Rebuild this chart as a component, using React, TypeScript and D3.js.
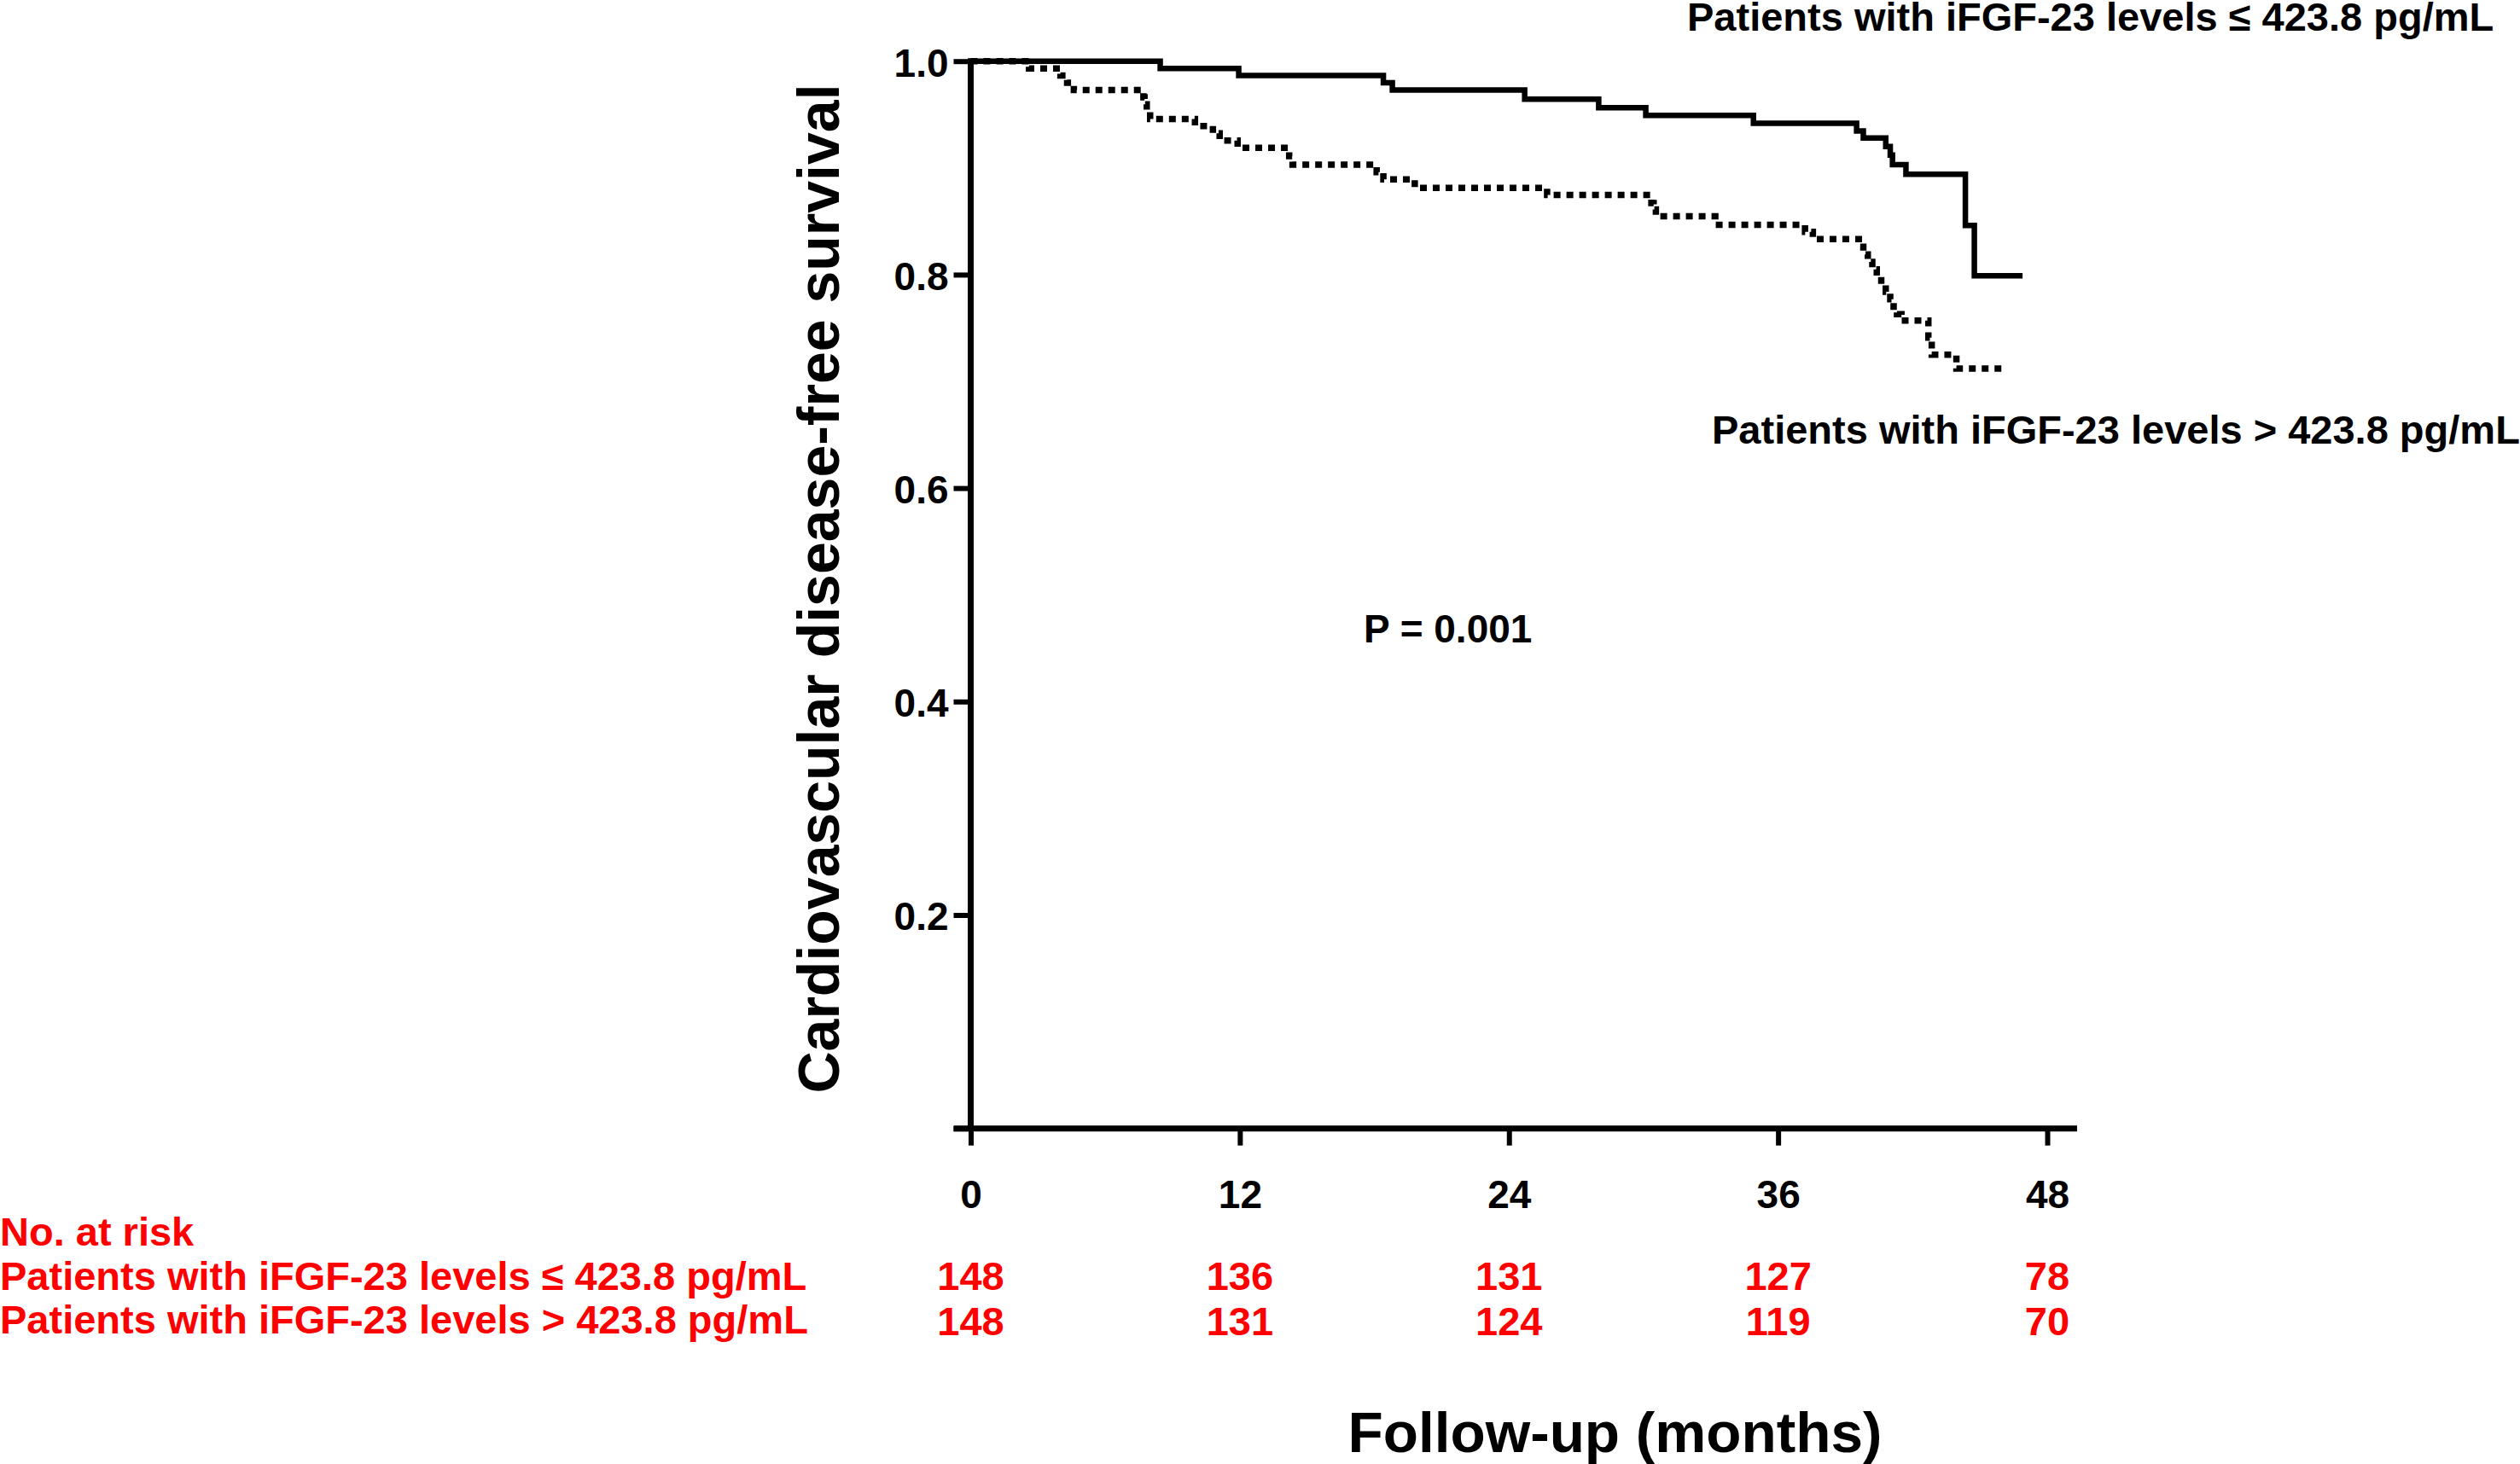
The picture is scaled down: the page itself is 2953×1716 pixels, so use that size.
import React, { useEffect, useRef } from 'react';
import * as d3 from 'd3';

const lowGroupLabel = 'Patients with iFGF-23 levels ≤ 423.8 pg/mL';
const highGroupLabel = 'Patients with iFGF-23 levels > 423.8 pg/mL';

// Kaplan-Meier steps: [month, survival]
const lowGroupSteps: [number, number][] = [
  [0, 1.0],
  [8.45, 0.9932],
  [11.95, 0.9865],
  [18.4, 0.9797],
  [18.8, 0.973],
  [24.7, 0.9644],
  [28.0, 0.9564],
  [30.1, 0.9492],
  [34.9, 0.9418],
  [39.5, 0.9346],
  [39.8, 0.928],
  [40.8, 0.92],
  [41.0, 0.912],
  [41.1, 0.903],
  [41.7, 0.894],
  [44.35, 0.846],
  [44.75, 0.799],
];
const lowGroupLastMonth = 46.9;

const highGroupSteps: [number, number][] = [
  [0, 1.0],
  [2.6, 0.9932],
  [4.0, 0.9865],
  [4.3, 0.9797],
  [4.6, 0.973],
  [7.7, 0.9662],
  [7.75, 0.9595],
  [7.85, 0.9527],
  [8.0, 0.9459],
  [10.0, 0.9392],
  [10.8, 0.9324],
  [11.1, 0.9257],
  [11.9, 0.9189],
  [14.2, 0.911],
  [14.35, 0.903],
  [18.1, 0.896],
  [18.4, 0.8893],
  [19.8, 0.8813],
  [25.7, 0.8746],
  [30.35, 0.867],
  [30.45, 0.861],
  [30.55, 0.8546],
  [33.2, 0.8466],
  [37.2, 0.84],
  [37.55, 0.8333],
  [39.6, 0.826],
  [39.8, 0.819],
  [40.0, 0.812],
  [40.2, 0.805],
  [40.4, 0.798],
  [40.6, 0.791],
  [40.8, 0.784],
  [41.0, 0.777],
  [41.15, 0.77],
  [41.3, 0.763],
  [41.5, 0.757],
  [42.7, 0.741],
  [42.85, 0.725],
  [43.95, 0.712],
];
const highGroupLastMonth = 46.1;

const xTicks = [0, 12, 24, 36, 48];
const yTicks = [0, 0.2, 0.4, 0.6, 0.8, 1.0];

const riskMonths = [0, 12, 24, 36, 48];
const lowAtRisk = [148, 136, 131, 127, 78];
const highAtRisk = [148, 131, 124, 119, 70];

const pValueText = 'P = 0.001';
const yTitle = 'Cardiovascular disease-free survival';
const xTitle = 'Follow-up (months)';
const riskTitle = 'No. at risk';

const FONT = "'Liberation Sans', Arial, Helvetica, sans-serif";
const RED = '#ff0000';

const KaplanMeier: React.FC = () => {
  const ref = useRef<SVGSVGElement>(null);

  useEffect(() => {
    if (!ref.current) return;
    const svg = d3.select(ref.current);
    svg.selectAll('*').remove();

    const width = 2953;
    const height = 1716;
    svg.attr('viewBox', `0 0 ${width} ${height}`);

    const x = d3.scaleLinear().domain([0, 48]).range([1137.5, 2399]);
    const y = d3.scaleLinear().domain([0, 1]).range([1322.7, 71.7]);

    const g = svg.append('g').attr('font-family', FONT).attr('font-weight', 'bold');

    // Axes lines
    g.append('line')
      .attr('x1', x(0)).attr('x2', x(0))
      .attr('y1', y(1) - 3.5).attr('y2', y(0))
      .attr('stroke', '#000').attr('stroke-width', 7);
    g.append('line')
      .attr('x1', x(0) - 20).attr('x2', x(49.33))
      .attr('y1', y(0)).attr('y2', y(0))
      .attr('stroke', '#000').attr('stroke-width', 7);

    // Y axis ticks
    const yAxis = g.append('g')
      .attr('transform', `translate(${x(0)},0)`)
      .call(
        d3.axisLeft(y)
          .tickValues(yTicks)
          .tickSize(20)
          .tickSizeOuter(0)
          .tickPadding(6)
          .tickFormat(d => (d === 0 ? '' : d3.format('.1f')(d as number)))
      );
    yAxis.select('.domain').remove();
    yAxis.selectAll('.tick line').attr('stroke', '#000').attr('stroke-width', 6);
    yAxis.selectAll('text')
      .attr('dy', '0.38em')
      .style('fill', '#000')
      .style('font-family', FONT)
      .style('font-weight', 'bold')
      .style('font-size', '46px');

    // X axis ticks
    const xAxis = g.append('g')
      .attr('transform', `translate(0,${y(0)})`)
      .call(
        d3.axisBottom(x)
          .tickValues(xTicks)
          .tickSize(20)
          .tickSizeOuter(0)
          .tickPadding(41)
          .tickFormat(d3.format('d'))
      );
    xAxis.select('.domain').remove();
    xAxis.selectAll('.tick line').attr('stroke', '#000').attr('stroke-width', 6);
    xAxis.selectAll('text')
      .style('fill', '#000')
      .style('font-family', FONT)
      .style('font-weight', 'bold')
      .style('font-size', '46px');

    // Survival curves
    const line = d3.line<[number, number]>()
      .x(d => x(d[0]))
      .y(d => y(d[1]))
      .curve(d3.curveStepAfter);

    const highData: [number, number][] = [
      ...highGroupSteps,
      [highGroupLastMonth, highGroupSteps[highGroupSteps.length - 1][1]],
    ];
    const lowData: [number, number][] = [
      ...lowGroupSteps,
      [lowGroupLastMonth, lowGroupSteps[lowGroupSteps.length - 1][1]],
    ];

    g.append('path')
      .datum(highData)
      .attr('d', line)
      .attr('fill', 'none')
      .attr('stroke', '#000')
      .attr('stroke-width', 7.5)
      .attr('stroke-dasharray', '8 7');

    g.append('path')
      .datum(lowData)
      .attr('d', line)
      .attr('fill', 'none')
      .attr('stroke', '#000')
      .attr('stroke-width', 6.5);

    // Curve labels
    g.append('text')
      .attr('x', 1977).attr('y', 36)
      .attr('font-size', 47)
      .text(lowGroupLabel);
    g.append('text')
      .attr('x', 2006).attr('y', 520)
      .attr('font-size', 47)
      .text(highGroupLabel);

    // P value
    g.append('text')
      .attr('x', 1598).attr('y', 753)
      .attr('font-size', 46)
      .text(pValueText);

    // Axis titles
    g.append('text')
      .attr('transform', 'translate(983,690) rotate(-90)')
      .attr('text-anchor', 'middle')
      .attr('font-size', 68)
      .text(yTitle);
    g.append('text')
      .attr('x', 1892.5).attr('y', 1701.7)
      .attr('text-anchor', 'middle')
      .attr('font-size', 67.5)
      .text(xTitle);

    // Number at risk table
    const risk = g.append('g').attr('fill', RED).attr('font-size', 47);
    risk.append('text').attr('x', 0).attr('y', 1460).text(riskTitle);
    risk.append('text').attr('x', 0).attr('y', 1512).text(lowGroupLabel);
    risk.append('text').attr('x', 0).attr('y', 1563).text(highGroupLabel);

    risk.selectAll('.low-n')
      .data(riskMonths)
      .enter().append('text')
      .attr('class', 'low-n')
      .attr('x', d => x(d))
      .attr('y', 1512)
      .attr('text-anchor', 'middle')
      .text((_, i) => lowAtRisk[i]);

    risk.selectAll('.high-n')
      .data(riskMonths)
      .enter().append('text')
      .attr('class', 'high-n')
      .attr('x', d => x(d))
      .attr('y', 1565)
      .attr('text-anchor', 'middle')
      .text((_, i) => highAtRisk[i]);
  }, []);

  return (
    <svg
      ref={ref}
      width={2953}
      height={1716}
      style={{ position: 'absolute', left: 0, top: 0, background: '#fff' }}
    />
  );
};

export default function App() {
  return <KaplanMeier />;
}
